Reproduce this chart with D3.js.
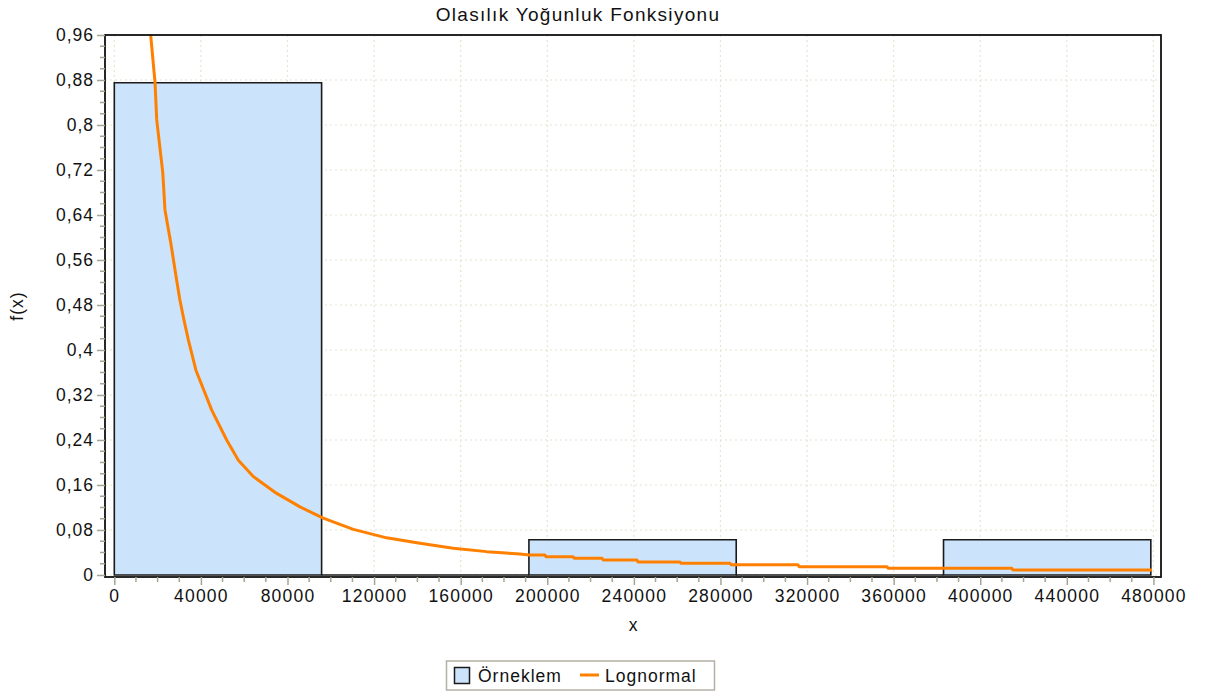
<!DOCTYPE html>
<html>
<head>
<meta charset="utf-8">
<script src="https://cdn.jsdelivr.net/npm/d3@7"></script>
<style>
  html, body { margin: 0; padding: 0; background: #fff; }
  svg { display: block; font-family: "Liberation Sans", Arial, sans-serif; }
</style>
</head>
<body>
<svg id="chart" width="1205" height="697"></svg>
<script>
// Histogram of the sample: bin edges and relative frequencies
const binEdges = [0, 95760, 191520, 287280, 383040, 478800];
const binHeights = [0.875, 0, 0.0625, 0, 0.0625];

// Fitted lognormal density, evaluated along x
const curveX = [16800, 18800, 19600, 22400, 23400, 26100, 28800, 30300, 32200, 34200,
  37700, 45000, 51900, 57300, 64200, 75000, 85800, 96500, 110400, 125800,
  141200, 156600, 172000, 187400, 191500, 198900, 199400, 211900, 212400, 225300,
  225800, 241400, 241900, 261300, 261800, 284400, 284900, 315800, 316300, 356900,
  357400, 414600, 415100, 479300];
const curveY = [0.960, 0.876, 0.809, 0.715, 0.649, 0.590, 0.524, 0.489, 0.453, 0.418,
  0.364, 0.293, 0.240, 0.204, 0.175, 0.145, 0.121, 0.101, 0.081, 0.066,
  0.0563, 0.0474, 0.0415, 0.0373, 0.0356, 0.0356, 0.0326, 0.0326, 0.0297, 0.0297,
  0.0267, 0.0267, 0.0231, 0.0231, 0.0208, 0.0208, 0.0183, 0.0183, 0.0148, 0.0148,
  0.0119, 0.0119, 0.0089, 0.0089];

// Axis ticks and labels
const xTicks = [0, 40000, 80000, 120000, 160000, 200000, 240000, 280000, 320000, 360000, 400000, 440000, 480000];
const xTickLabels = ["0", "40000", "80000", "120000", "160000", "200000", "240000", "280000", "320000", "360000", "400000", "440000", "480000"];
const yTicks = [0, 0.08, 0.16, 0.24, 0.32, 0.4, 0.48, 0.56, 0.64, 0.72, 0.8, 0.88, 0.96];
const yTickLabels = ["0", "0,08", "0,16", "0,24", "0,32", "0,4", "0,48", "0,56", "0,64", "0,72", "0,8", "0,88", "0,96"];

const titleText = "Olasılık Yoğunluk Fonksiyonu";
const xTitle = "x";
const yTitle = "f(x)";
const seriesNames = ["Örneklem", "Lognormal"];

const svg = d3.select("#chart");
const plot = { left: 105, top: 35, right: 1161, bottom: 577 };

const x = d3.scaleLinear().domain([-4300, 483500]).range([plot.left, plot.right]);
const y = d3.scaleLinear().domain([-0.0036, 0.96]).range([plot.bottom, plot.top]);

const fontSize = 17.5;
const gridColor = "#e6e4d2";
const tickColor = "#a8a594";
const barFill = "#cce4fb";
const curveColor = "#ff8000";

// Title
svg.append("text")
  .attr("x", 578)
  .attr("y", 21)
  .attr("text-anchor", "middle")
  .attr("font-size", 19)
  .attr("letter-spacing", "1.3px")
  .attr("fill", "#111")
  .text(titleText);

// Gridlines
const gridG = svg.append("g");
gridG.selectAll("line.gx").data(xTicks).join("line")
  .attr("x1", d => x(d)).attr("x2", d => x(d))
  .attr("y1", plot.top).attr("y2", plot.bottom)
  .attr("stroke", gridColor).attr("stroke-width", 1.2)
  .attr("stroke-dasharray", "2,3");
gridG.selectAll("line.gy").data(yTicks).join("line")
  .attr("x1", plot.left).attr("x2", plot.right)
  .attr("y1", d => y(d)).attr("y2", d => y(d))
  .attr("stroke", gridColor).attr("stroke-width", 1.2)
  .attr("stroke-dasharray", "2,3");

// Histogram bars (paths so that zero-height bins still show their outline)
const bins = binHeights.map((h, i) => ({ x0: binEdges[i], x1: binEdges[i + 1], h }));
svg.append("g").selectAll("path").data(bins).join("path")
  .attr("d", d => {
    const x0 = x(d.x0), x1 = x(d.x1), y0 = y(0), y1 = y(d.h);
    return `M${x0},${y0}L${x0},${y1}L${x1},${y1}L${x1},${y0}Z`;
  })
  .attr("fill", barFill)
  .attr("stroke", "#1a1a1a")
  .attr("stroke-width", 1.6);

// Lognormal curve, clipped to the plot area
svg.append("clipPath").attr("id", "plotClip")
  .append("rect")
  .attr("x", plot.left).attr("y", plot.top)
  .attr("width", plot.right - plot.left).attr("height", plot.bottom - plot.top);

const curvePts = curveX.map((v, i) => [v, curveY[i]]);
svg.append("path")
  .datum(curvePts)
  .attr("clip-path", "url(#plotClip)")
  .attr("d", d3.line().x(d => x(d[0])).y(d => y(d[1])))
  .attr("fill", "none")
  .attr("stroke", curveColor)
  .attr("stroke-width", 3)
  .attr("stroke-linejoin", "round");

// Plot frame
svg.append("rect")
  .attr("x", plot.left).attr("y", plot.top)
  .attr("width", plot.right - plot.left).attr("height", plot.bottom - plot.top)
  .attr("fill", "none")
  .attr("stroke", "#111")
  .attr("stroke-width", 1.8);

// X axis
const xAxis = d3.axisBottom(x)
  .tickValues(xTicks)
  .tickSize(8)
  .tickPadding(5)
  .tickFormat((d, i) => xTickLabels[i]);
const xg = svg.append("g").attr("transform", `translate(0,${plot.bottom})`).call(xAxis);
xg.select(".domain").remove();
xg.selectAll(".tick line").attr("stroke", tickColor).attr("stroke-width", 1.5);
xg.selectAll(".tick text")
  .attr("font-size", fontSize).attr("font-family", "Liberation Sans, Arial, sans-serif")
  .attr("letter-spacing", "1.2px").attr("fill", "#111");

const xMinor = d3.range(0, 480001, 10000).filter(v => v % 40000 !== 0);
svg.append("g").selectAll("line").data(xMinor).join("line")
  .attr("x1", d => x(d)).attr("x2", d => x(d))
  .attr("y1", plot.bottom).attr("y2", plot.bottom + 5)
  .attr("stroke", tickColor).attr("stroke-width", 1.5);

// Y axis
const yAxis = d3.axisLeft(y)
  .tickValues(yTicks)
  .tickSize(8)
  .tickPadding(3)
  .tickFormat((d, i) => yTickLabels[i]);
const yg = svg.append("g").attr("transform", `translate(${plot.left},0)`).call(yAxis);
yg.select(".domain").remove();
yg.selectAll(".tick line").attr("stroke", tickColor).attr("stroke-width", 1.5);
yg.selectAll(".tick text")
  .attr("font-size", fontSize).attr("font-family", "Liberation Sans, Arial, sans-serif")
  .attr("letter-spacing", "1px").attr("fill", "#111");

const yMinor = d3.range(0, 0.9601, 0.02).filter((v, i) => i % 4 !== 0);
svg.append("g").selectAll("line").data(yMinor).join("line")
  .attr("x1", plot.left - 5).attr("x2", plot.left)
  .attr("y1", d => y(d)).attr("y2", d => y(d))
  .attr("stroke", tickColor).attr("stroke-width", 1.5);

// Axis titles
svg.append("text")
  .attr("x", (plot.left + plot.right) / 2)
  .attr("y", 631)
  .attr("text-anchor", "middle")
  .attr("font-size", fontSize)
  .attr("fill", "#111")
  .text(xTitle);

svg.append("text")
  .attr("transform", `translate(23,${(plot.top + plot.bottom) / 2}) rotate(-90)`)
  .attr("text-anchor", "middle")
  .attr("font-size", fontSize)
  .attr("letter-spacing", "1px")
  .attr("fill", "#111")
  .text(yTitle);

// Legend
const lg = svg.append("g");
lg.append("rect")
  .attr("x", 446.5).attr("y", 661)
  .attr("width", 268).attr("height", 29)
  .attr("fill", "#fff").attr("stroke", "#b3b0a4").attr("stroke-width", 1.5);
lg.append("rect")
  .attr("x", 454.5).attr("y", 667.5)
  .attr("width", 15).attr("height", 16)
  .attr("fill", barFill).attr("stroke", "#1a1a1a").attr("stroke-width", 1.5);
lg.append("text")
  .attr("x", 478).attr("y", 682)
  .attr("font-size", fontSize).attr("letter-spacing", "1px").attr("fill", "#111")
  .text(seriesNames[0]);
lg.append("line")
  .attr("x1", 580).attr("x2", 599).attr("y1", 675).attr("y2", 675)
  .attr("stroke", curveColor).attr("stroke-width", 3);
lg.append("text")
  .attr("x", 605).attr("y", 682)
  .attr("font-size", fontSize).attr("letter-spacing", "1px").attr("fill", "#111")
  .text(seriesNames[1]);
</script>
</body>
</html>
